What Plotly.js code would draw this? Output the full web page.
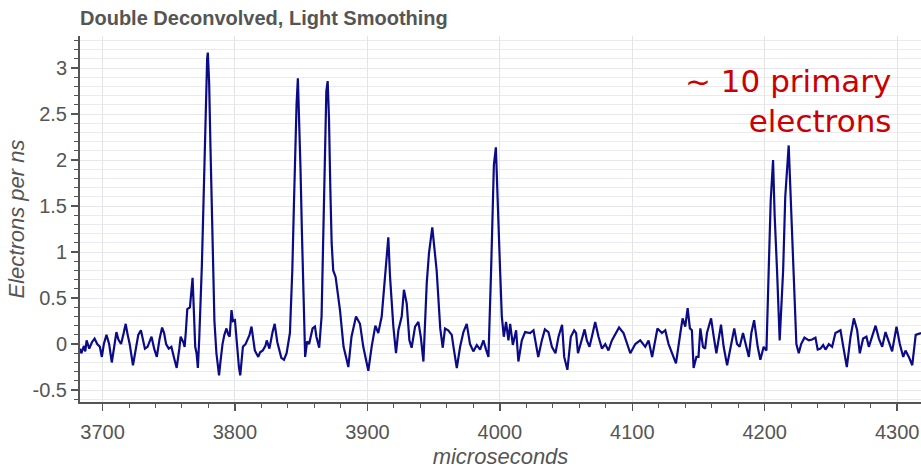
<!DOCTYPE html>
<html>
<head>
<meta charset="utf-8">
<script src="https://cdn.plot.ly/plotly-3.0.1.min.js"></script>
<style>html,body{margin:0;padding:0;background:#fff;}#chart{width:921px;height:469px;}</style>
</head>
<body>
<div id="chart"></div>
<script>
// time (microseconds) of each sample
const times = [
3683,3684,3686,3687,3688,3690,3692,3694,3696,3698,3699.5,3701,3703,3705,3707,3709,3710.5,3712,3714,3716,
3717.5,3719,3720.5,3723,3725,3727,3729,3731,3732,3734,3737,3739,3741,3743,3745,3746.5,3748,3750,3752,3754,
3756,3758,3759,3761,3762,3763,3764,3766,3767,3768,3769,3770,3771,3772,3773,3774,3775,3776,3777,3778,
3779,3779.5,3780.5,3781.5,3782.5,3783.5,3784.5,3786,3787,3788,3789,3790.6,3792,3793.6,3795,3796,3797.4,3798.5,3800,3801,
3802,3803,3804,3805,3806,3808,3809,3811,3812.5,3814,3815,3817.6,3819,3821,3823,3824,3826,3828.4,3830,3832,
3835,3837,3839,3841.5,3843.3,3844.5,3845.5,3846.5,3847.5,3848.5,3849.5,3850.5,3851.3,3852,3853,3854.5,3856,3858.6,3860.4,3861.5,
3863.6,3865.4,3866.2,3867.2,3868.2,3869,3870,3871,3872,3873,3874.2,3876,3879.3,3882,3884,3885.6,3888,3891.4,3894.4,3896.9,
3900.7,3903.2,3906,3908.2,3910.8,3914,3915.8,3917.1,3919.6,3921.6,3923.4,3925.9,3927.6,3929.7,3931.7,3933.4,3936,3938.5,3940.3,3942.3,
3944.8,3946.5,3949,3952.3,3955,3956.9,3958.6,3961,3963.7,3965,3967.5,3970,3972.5,3975,3977.5,3980,3982.6,3985.1,3987.6,3989.6,
3991.4,3993.4,3994.5,3995.5,3997,3998,3999,4000.2,4001.5,4003,4004.7,4006.5,4007.8,4009.8,4012.3,4014,4016.6,4019.1,4022.9,4025.4,
4027.4,4029,4031.7,4034,4036.7,4039.3,4042,4044.3,4047,4048.6,4051,4053.6,4056.1,4057.6,4059,4062,4064,4065.7,4067.7,4069.5,
4072,4074.5,4077.1,4079.6,4082,4084.6,4087.1,4090,4093.4,4096,4098.5,4102.3,4106,4109.8,4112.3,4115,4116.6,4119,4122.4,4124.9,
4127.4,4130,4133,4136.3,4138,4140,4141.8,4143.5,4145,4146.3,4148.4,4150,4151.4,4153.4,4155,4156.4,4159.5,4161.5,4163.5,4167,
4169,4171.6,4174.1,4177,4179.1,4181.1,4183.6,4185.4,4188,4189.9,4192,4194.7,4196.7,4199.2,4201.3,4203,4204.5,4206.3,4207.5,4209.3,
4211.3,4213.9,4215.5,4218.1,4219.5,4221.4,4223.9,4225.7,4227.5,4230,4233.3,4235.8,4238.3,4240,4242.1,4244.1,4245.9,4248.4,4250.9,4253.4,
4257.2,4259.7,4262,4264.8,4267.3,4269.8,4271.8,4274.3,4276.8,4278.6,4281.1,4283.7,4286.2,4288.7,4291.2,4293.7,4296.2,4299.5,4302,4304.6,
4306.3,4308.8,4311.4,4314,4318
];
// electrons per ns at each of those times
const electrons = [
-0.05,-0.10,-0.02,-0.08,0.04,-0.05,0.02,0.06,0.00,-0.03,-0.14,0.00,0.10,0.00,-0.20,0.00,0.13,0.05,0.00,0.12,
0.22,0.10,0.00,-0.23,-0.05,0.10,0.15,0.00,-0.05,-0.03,0.08,-0.05,-0.14,0.05,0.18,0.12,0.00,-0.05,-0.03,-0.15,
-0.26,-0.05,0.08,0.02,-0.03,0.15,0.38,0.40,0.55,0.72,0.35,-0.03,-0.10,-0.26,0.05,0.40,0.85,1.40,2.05,2.65,
3.10,3.17,2.85,2.15,1.40,0.80,0.25,-0.10,-0.25,-0.34,-0.20,0.00,0.10,0.17,0.10,0.08,0.37,0.25,0.26,0.10,
-0.14,-0.25,-0.34,-0.15,-0.03,0.00,0.04,0.10,0.19,0.05,-0.07,-0.14,-0.09,-0.07,-0.02,0.04,-0.05,0.13,0.22,0.02,
-0.15,-0.17,-0.10,0.12,0.80,1.50,2.10,2.60,2.89,2.50,1.90,1.25,0.80,0.30,-0.14,0.03,0.00,0.17,0.19,0.08,
-0.04,0.30,0.80,1.60,2.30,2.75,2.86,2.45,1.70,1.10,0.80,0.73,0.37,-0.03,-0.15,-0.25,0.08,0.30,0.22,-0.03,
-0.29,-0.03,0.20,0.12,0.30,0.91,1.16,0.73,0.19,-0.10,0.15,0.30,0.59,0.44,0.04,-0.04,0.19,0.24,0.08,-0.19,
0.66,0.99,1.27,0.80,0.17,-0.04,0.17,0.15,0.10,-0.03,-0.26,-0.03,0.13,0.22,0.00,-0.08,-0.01,-0.06,0.04,-0.06,
-0.14,0.80,1.50,1.95,2.14,1.80,1.30,0.80,0.30,0.08,0.24,0.04,0.22,-0.01,0.15,-0.19,0.04,0.13,0.12,0.15,
-0.03,-0.14,0.04,0.16,0.13,-0.03,-0.10,0.08,0.21,-0.14,-0.28,0.08,0.15,0.12,-0.10,0.04,0.16,0.04,-0.03,0.08,
0.24,0.08,-0.05,0.00,-0.07,0.04,0.10,0.18,0.12,0.00,-0.10,0.00,0.04,-0.03,0.04,-0.14,-0.03,0.17,0.12,0.15,
0.00,-0.10,-0.21,0.12,0.28,0.19,0.39,0.17,0.15,-0.26,-0.14,-0.14,0.17,-0.03,-0.05,0.12,0.28,0.08,-0.10,0.21,
-0.03,-0.23,-0.03,0.17,0.00,-0.03,0.12,0.00,-0.14,0.12,0.26,-0.03,-0.17,-0.03,-0.07,0.80,1.55,2.00,1.40,0.80,
0.04,0.80,1.60,2.16,1.60,0.80,0.00,-0.10,0.00,0.07,0.04,0.05,0.07,-0.06,-0.05,-0.01,-0.06,0.00,-0.03,0.12,
0.15,-0.06,-0.25,0.08,0.28,0.15,-0.10,0.06,0.08,-0.03,0.08,0.20,0.06,-0.03,0.13,0.02,-0.08,0.19,0.00,-0.14,
-0.07,-0.14,-0.23,0.10,0.12
];
const xTickVals = [3700,3800,3900,4000,4100,4200,4300];
const xTickText = ["3700","3800","3900","4000","4100","4200","4300"];
const yTickVals = [-0.5,0,0.5,1,1.5,2,2.5,3];
const yTickText = ["-0.5","0","0.5","1","1.5","2","2.5","3"];

const FONT = "Liberation Sans, Arial, Helvetica, sans-serif";
const trace = {
  x: times, y: electrons, type: "scatter", mode: "lines",
  line: {color: "#0b0b86", width: 2.2},
  hoverinfo: "skip", showlegend: false
};
const layout = {
  width: 921, height: 469,
  margin: {l: 80, r: 0, t: 36, b: 67},
  paper_bgcolor: "#fff", plot_bgcolor: "#fff",
  title: {text: "<b>Double Deconvolved, Light Smoothing</b>", font: {family: FONT, size: 20, color: "#555"},
          x: 0, xref: "paper", xanchor: "left", y: 1 - 18/469, yref: "container", yanchor: "middle"},
  xaxis: {
    range: [3683, 4318], tickmode: "array", tickvals: xTickVals, ticktext: xTickText,
    showgrid: true, gridcolor: "#e4e4e4", gridwidth: 1, zeroline: false,
    showline: true, linecolor: "#555", linewidth: 2,
    ticks: "outside", ticklen: 7, tickwidth: 1.5, tickcolor: "#555",
    ticklabelstandoff: 4,
    tickfont: {family: FONT, size: 20, color: "#555"},
    minor: {dtick: 20, tick0: 3700, ticks: "outside", ticklen: 4, tickwidth: 1, tickcolor: "#555", showgrid: false},
    title: {text: "<i>microseconds</i>", font: {family: FONT, size: 22, color: "#555"}, standoff: 13}
  },
  yaxis: {
    range: [-0.63, 3.35], tickmode: "array", tickvals: yTickVals, ticktext: yTickText,
    showgrid: true, gridcolor: "#e6e6f0", gridwidth: 1, zeroline: false,
    showline: true, linecolor: "#555", linewidth: 2,
    ticks: "outside", ticklen: 7, tickwidth: 1.5, tickcolor: "#555",
    tickfont: {family: FONT, size: 20, color: "#555"},
    minor: {dtick: 0.1, tick0: 0, ticks: "outside", ticklen: 4, tickwidth: 1, tickcolor: "#555", showgrid: true, gridcolor: "#eaeaf3", gridwidth: 1},
    title: {text: "<i>Electrons per ns</i>", font: {family: FONT, size: 22, color: "#555"}, standoff: 2}
  },
  annotations: [{
    text: "~ 10 primary<br>electrons", xref: "paper", yref: "paper",
    x: (893-80)/841, y: (402-101)/366, xanchor: "right", yanchor: "middle", align: "right",
    showarrow: false, font: {family: "DejaVu Sans", size: 31, color: "#cc0000"}
  }]
};
Plotly.newPlot("chart", [trace], layout, {staticPlot: true, displayModeBar: false});
</script>
</body>
</html>
